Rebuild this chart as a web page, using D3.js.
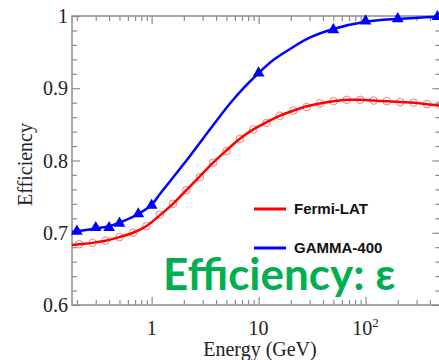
<!DOCTYPE html>
<html>
<head>
<meta charset="utf-8">
<script src="https://cdn.jsdelivr.net/npm/d3@7"></script>
<style>
  html, body { margin: 0; padding: 0; background: #fff; }
  svg { display: block; }
</style>
</head>
<body>
<svg id="chart" width="439" height="360"></svg>
<script>
// Fermi-LAT: measured points (open circles)
const fermiEnergy = [0.21, 0.28, 0.37, 0.50, 0.67, 0.89, 1.19, 1.58, 2.11, 2.82, 3.76, 5.01, 6.68, 8.91,
                     11.9, 15.8, 21.1, 28.2, 37.6, 50.1, 66.8, 89.1, 119, 158, 211, 282, 376, 501];
const fermiEff = [0.684, 0.686, 0.689, 0.694, 0.700, 0.709, 0.725, 0.740, 0.759, 0.777, 0.797, 0.813, 0.830, 0.843,
                  0.852, 0.862, 0.869, 0.874, 0.879, 0.882, 0.884, 0.884, 0.883, 0.882, 0.881, 0.880, 0.878, 0.877];
// Fermi-LAT: fitted curve
const fermiFitEnergy = [0.18, 0.21, 0.28, 0.37, 0.50, 0.67, 0.89, 1.19, 1.58, 2.11, 2.82, 3.76, 5.01, 6.68, 8.91,
                        11.9, 15.8, 21.1, 28.2, 37.6, 50.1, 66.8, 89.1, 119, 158, 211, 282, 376, 501];
const fermiFitEff = [0.683, 0.684, 0.686, 0.689, 0.694, 0.700, 0.709, 0.724, 0.740, 0.759, 0.778, 0.797, 0.814, 0.830, 0.843,
                     0.853, 0.862, 0.869, 0.875, 0.879, 0.882, 0.884, 0.884, 0.883, 0.882, 0.881, 0.880, 0.878, 0.876];

// GAMMA-400: simulated points (filled triangles)
const gammaEnergy = [0.2, 0.3, 0.4, 0.5, 0.75, 1, 10, 50, 100, 200, 470];
const gammaEff = [0.702, 0.707, 0.707, 0.713, 0.726, 0.738, 0.921, 0.981, 0.993, 0.996, 0.999];
// GAMMA-400: fitted curve
const gammaFitEnergy = [0.18, 0.2, 0.3, 0.4, 0.5, 0.75, 1, 1.2, 1.5, 2.3, 3.5, 5.4, 7.3, 10, 14, 20, 30, 50, 100, 200, 500];
const gammaFitEff = [0.701, 0.702, 0.706, 0.709, 0.714, 0.726, 0.739, 0.754, 0.772, 0.807, 0.843, 0.879, 0.901, 0.921,
                     0.940, 0.955, 0.970, 0.982, 0.992, 0.996, 0.999];

// Axis ticks and labels
const yMajor = [0.6, 0.7, 0.8, 0.9, 1.0];
const yLabels = ["0.6", "0.7", "0.8", "0.9", "1"];
const yMinor = d3.range(0.62, 1.0, 0.02).filter(v => Math.abs(v * 10 - Math.round(v * 10)) > 1e-6);
const xMajor = [1, 10, 100];
const xMinor = [0.2, 0.3, 0.4, 0.5, 0.6, 0.7, 0.8, 0.9, 2, 3, 4, 5, 6, 7, 8, 9,
                20, 30, 40, 50, 60, 70, 80, 90, 200, 300, 400, 500];

const legendItems = [
  { name: "Fermi-LAT", color: "#ff0000" },
  { name: "GAMMA-400", color: "#0000ff" }
];
const bannerText = "Efficiency: ε";

const svg = d3.select("#chart");
const x = d3.scaleLog().domain([0.18, 500]).range([72, 440.3]);
const y = d3.scaleLinear().domain([0.6, 1.0]).range([305, 16]);
const [x0, x1] = x.range();
const [yb, yt] = y.range();

const axisColor = "#8c8c8c";
const serif = "'Liberation Serif', 'Times New Roman', serif";

// tick marks pointing into the plot on all four sides
function styleAxis(g) {
  g.select(".domain").remove();
  g.selectAll("line").attr("stroke", axisColor).attr("stroke-width", 1.2);
  g.selectAll("text").remove();
}
svg.append("g").attr("transform", `translate(0,${yb})`)
  .call(d3.axisBottom(x).tickValues(xMajor).tickSize(-8)).call(styleAxis);
svg.append("g").attr("transform", `translate(0,${yb})`)
  .call(d3.axisBottom(x).tickValues(xMinor).tickSize(-5)).call(styleAxis);
svg.append("g").attr("transform", `translate(0,${yt})`)
  .call(d3.axisTop(x).tickValues(xMajor).tickSize(-8)).call(styleAxis);
svg.append("g").attr("transform", `translate(0,${yt})`)
  .call(d3.axisTop(x).tickValues(xMinor).tickSize(-5)).call(styleAxis);
svg.append("g").attr("transform", `translate(${x0},0)`)
  .call(d3.axisLeft(y).tickValues(yMajor).tickSize(-8)).call(styleAxis);
svg.append("g").attr("transform", `translate(${x0},0)`)
  .call(d3.axisLeft(y).tickValues(yMinor).tickSize(-5)).call(styleAxis);
svg.append("g").attr("transform", `translate(${x1},0)`)
  .call(d3.axisRight(y).tickValues(yMajor).tickSize(-8)).call(styleAxis);
svg.append("g").attr("transform", `translate(${x1},0)`)
  .call(d3.axisRight(y).tickValues(yMinor).tickSize(-5)).call(styleAxis);

// frame
svg.append("rect")
  .attr("x", x0).attr("y", yt).attr("width", x1 - x0).attr("height", yb - yt)
  .attr("fill", "none").attr("stroke", axisColor).attr("stroke-width", 1.5);

// y tick labels
svg.append("g").selectAll("text").data(yMajor).join("text")
  .attr("x", x0 - 4).attr("y", d => y(d)).attr("dy", "0.35em")
  .attr("text-anchor", "end")
  .attr("font-family", serif).attr("font-size", 20).attr("fill", "#222")
  .text((d, i) => yLabels[i]);

// x tick labels (powers of ten)
const xl = svg.append("g");
xMajor.forEach(v => {
  const exp = Math.round(Math.log10(v));
  const t = xl.append("text")
    .attr("x", x(v)).attr("y", 335)
    .attr("text-anchor", "middle")
    .attr("font-family", serif).attr("font-size", 20).attr("fill", "#222");
  if (exp < 2) {
    t.text(String(v));
  } else {
    t.append("tspan").text("10");
    t.append("tspan").attr("dy", -8).attr("font-size", 13).text(String(exp));
  }
});

// axis titles
svg.append("text")
  .attr("x", 260).attr("y", 356).attr("text-anchor", "middle")
  .attr("font-family", serif).attr("font-size", 20).attr("fill", "#222")
  .text("Energy (GeV)");
svg.append("text")
  .attr("transform", `translate(32,${(yt + yb) / 2 + 4}) rotate(-90)`)
  .attr("text-anchor", "middle")
  .attr("font-family", serif).attr("font-size", 20).attr("fill", "#222")
  .text("Efficiency");

const plot = svg.append("g");
const line = d3.line().x(d => x(d[0])).y(d => y(d[1])).curve(d3.curveCatmullRom.alpha(0.5));

// Fermi-LAT markers then fitted line
plot.append("g").selectAll("circle").data(d3.zip(fermiEnergy, fermiEff)).join("circle")
  .attr("cx", d => x(d[0])).attr("cy", d => y(d[1])).attr("r", 3.8)
  .attr("fill", "none").attr("stroke", "#ff7a7a").attr("stroke-width", 1);
plot.append("path").datum(d3.zip(fermiFitEnergy, fermiFitEff))
  .attr("d", line).attr("fill", "none").attr("stroke", "#ff0000").attr("stroke-width", 2.5);

// GAMMA-400 fitted line then markers
plot.append("path").datum(d3.zip(gammaFitEnergy, gammaFitEff))
  .attr("d", line).attr("fill", "none").attr("stroke", "#0000ff").attr("stroke-width", 2.5);
plot.append("g").selectAll("path").data(d3.zip(gammaEnergy, gammaEff)).join("path")
  .attr("transform", d => `translate(${x(d[0])},${y(d[1])})`)
  .attr("d", d3.symbol(d3.symbolTriangle, 60))
  .attr("fill", "#0000ff");

// legend
const lg = svg.append("g");
legendItems.forEach((item, i) => {
  const ly = 209 + i * 39;
  lg.append("line").attr("x1", 254).attr("x2", 286).attr("y1", ly).attr("y2", ly)
    .attr("stroke", item.color).attr("stroke-width", 3);
  lg.append("text").attr("x", 294).attr("y", ly + 5)
    .attr("font-family", "'Liberation Sans', Arial, sans-serif").attr("font-weight", "bold")
    .attr("font-size", 15).attr("fill", "#111")
    .text(item.name);
});

// banner
svg.append("text")
  .attr("x", 163).attr("y", 290)
  .attr("font-family", "Lato, 'Open Sans', sans-serif").attr("font-weight", "bold")
  .attr("font-size", 44).attr("fill", "#00b050")
  .text(bannerText);
</script>
</body>
</html>
